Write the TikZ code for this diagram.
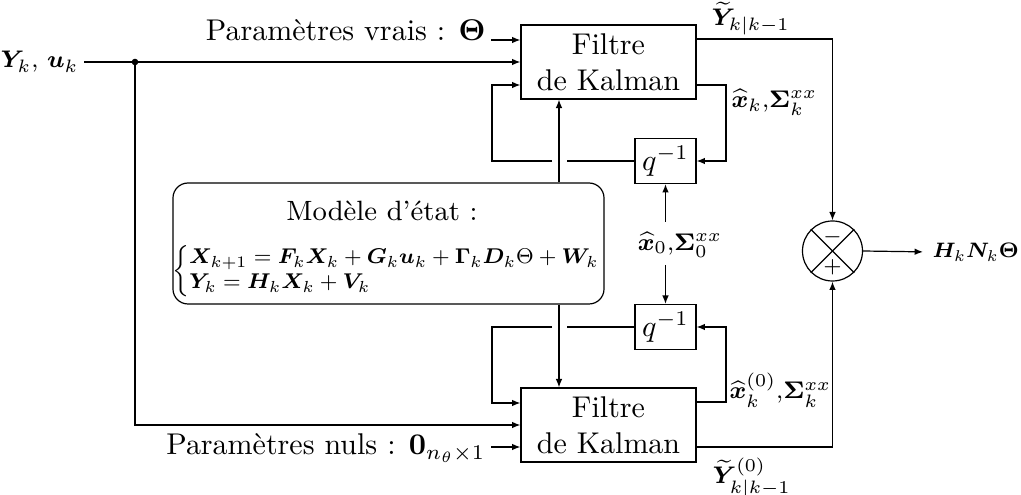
\documentclass[tikz,border=0pt]{standalone}
\usepackage{amsmath,bm,graphicx}
\usetikzlibrary{arrows.meta}
\begin{document}
\begin{tikzpicture}[x=0.33333pt,y=-0.33333pt,
  >={Latex[length=2.8pt,width=2.2pt]}, line width=0.4pt,
  kbox/.style={draw, minimum width=58.33pt, minimum height=24.67pt, align=center, inner sep=0pt},
  qbox/.style={draw, minimum width=20.33pt, minimum height=15pt, inner sep=0pt},
  lbl/.style={inner sep=0pt},
  mlbl/.style={inner sep=0pt, font=\fontsize{8.5}{10}\selectfont}]
\useasboundingbox (0,0) rectangle (1021,495);
% blocks
\node[kbox] (kf1) at (608.5,62) {Filtre\\de Kalman};
\node[kbox] (kf2) at (608.5,425) {Filtre\\de Kalman};
\node[qbox] (q1) at (665.5,161) {$q^{-1}$};
\node[qbox] (q2) at (665.5,327) {$q^{-1}$};
\node[draw, rounded corners=5pt, minimum width=143.67pt, minimum height=40.33pt] (mod) at (388.5,243.5) {};
\node[lbl, font=\fontsize{9.3}{11}\selectfont] (modt) at (382,211) {Modèle d'état :};
\node[lbl] (mode) at (387,271) {\scalebox{0.89}{\footnotesize $\left\{\begin{array}{@{}l@{}}
  \bm{X}_{k+1}=\bm{F}_k\bm{X}_k+\bm{G}_k\bm{u}_k+\bm{\Gamma}_k\bm{D}_k\Theta+\bm{W}_k\\
  \bm{Y}_k=\bm{H}_k\bm{X}_k+\bm{V}_k\end{array}\right.$}};
\node[circle, draw, minimum size=20pt, inner sep=0pt] (sum) at (832.5,251) {};
\draw (sum.45) -- (sum.225);
\draw (sum.135) -- (sum.-45);
\node[lbl] (minus) at (832.5,237) {$\scriptstyle -$};
\node[lbl] (plus) at (832.5,267) {$\scriptstyle +$};
% labels
\node[mlbl, anchor=east] (ylab) at (79,62) {$\bm{Y}_k,\,\bm{u}_k$};
\node[lbl, anchor=base east] (pv) at (486,41) {Paramètres vrais : $\bm{\Theta}$};
\node[lbl, anchor=base east] (pn) at (486,455) {Paramètres nuls : $\bm{0}_{n_\theta\times 1}$};
\node[mlbl, anchor=south west] (yt1) at (711,36) {$\widetilde{\bm{Y}}_{k|k-1}$};
\node[mlbl, anchor=north west] (xk) at (731,89) {$\widehat{\bm{x}}_k{,}\bm{\Sigma}_k^{xx}$};
\node[mlbl] (x0) at (680,245) {$\widehat{\bm{x}}_0{,}\bm{\Sigma}_0^{xx}$};
\node[mlbl, anchor=north west] (xk0) at (729,372) {$\widehat{\bm{x}}_k^{(0)}{,}\bm{\Sigma}_k^{xx}$};
\node[mlbl, anchor=north west] (yt0) at (712,457) {$\widetilde{\bm{Y}}_{k|k-1}^{(0)}$};
\node[lbl, anchor=west] (out) at (932,252) {\scalebox{0.87}{\footnotesize$\bm{H}_k\bm{N}_k\bm{\Theta}$}};
% coordinates
\coordinate (dot) at (135,62);
\coordinate (vx) at (559,0);
\coordinate (pvs) at (491,40);
\coordinate (pns) at (491,447);
\coordinate (fa) at (492,161);
\coordinate (fa2) at (492,85);
\coordinate (g1a) at (567,161);
\coordinate (g1b) at (552,161);
\coordinate (xo) at (726,85);
\coordinate (fb) at (492,327);
\coordinate (fb2) at (492,403);
\coordinate (g2a) at (567,327);
\coordinate (g2b) at (552,327);
\coordinate (xo2) at (726,402);
\coordinate (a0) at (665.5,222);
\coordinate (b0) at (665.5,265);
\coordinate (yt) at (832.5,39);
\coordinate (yb) at (832.5,447);
% connectors
\draw[->] (ylab.east) ++(5,0) -- (kf1.west);
\fill (dot) circle (1.1pt);
\draw[->] (dot) |- (kf2.west);
\draw[->] (pvs) -- (pvs -| kf1.west);
\draw[->] (pns) -- (pns -| kf2.west);
\draw (q1.west) -- (g1a);
\draw[->] (g1b) -- (fa) -- (fa2) -- (fa2 -| kf1.west);
\draw[->] (kf1.east |- xo) -- (xo) |- (q1.east);
\draw[->] (vx |- mod.north) -- (vx |- kf1.south);
\draw[->] (vx |- mod.south) -- (vx |- kf2.north);
\draw (q2.west) -- (g2a);
\draw[->] (g2b) -- (fb) -- (fb2) -- (fb2 -| kf2.west);
\draw[->] (kf2.east |- xo2) -- (xo2) |- (q2.east);
\draw[->] (a0) -- (q1.south);
\draw[->] (b0) -- (q2.north);
\draw[->] (kf1.east |- yt) -- (yt) -- (sum.north);
\draw[->] (kf2.east |- yb) -- (yb) -- (sum.south);
\draw[->, shorten >=3pt] (sum.east) -- (out.west);
\end{tikzpicture}
\end{document}
